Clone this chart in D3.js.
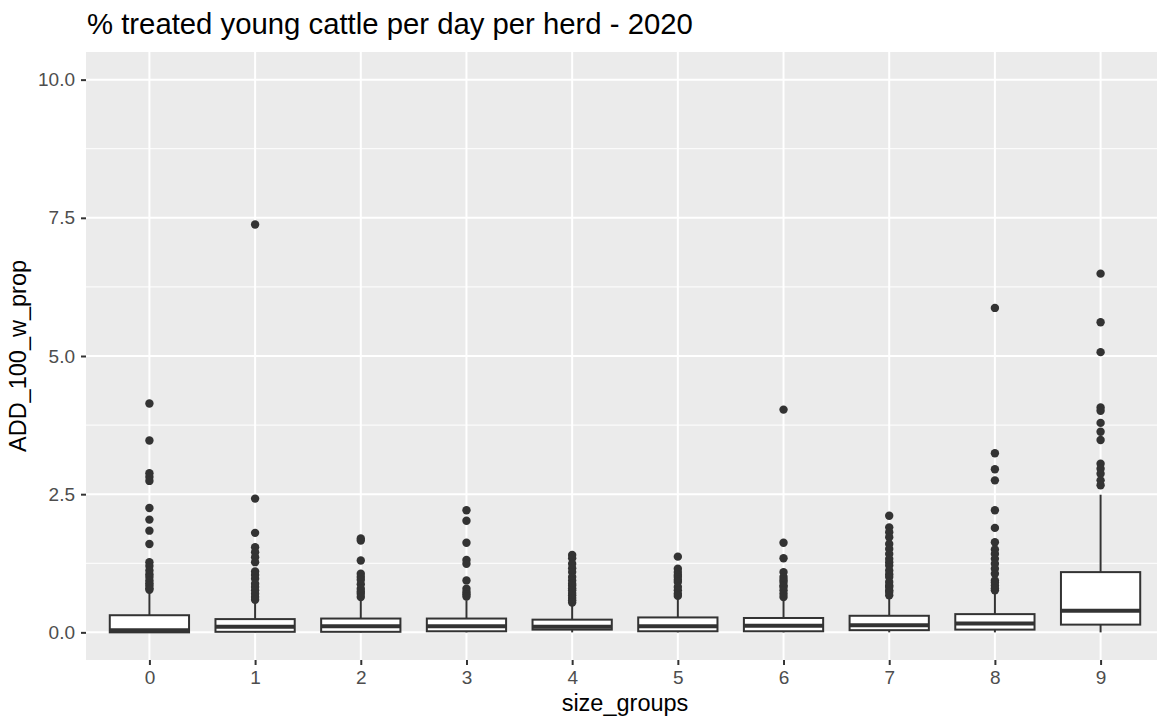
<!DOCTYPE html>
<html>
<head>
<meta charset="utf-8">
<script src="https://cdn.jsdelivr.net/npm/d3@7"></script>
<style>
  body { margin: 0; background: #fff; }
  svg text { font-family: "Liberation Sans", Arial, sans-serif; }
</style>
</head>
<body>
<div id="chart"></div>
<script>
// Box stats
const groups = ["0", "1", "2", "3", "4", "5", "6", "7", "8", "9"];
const whiskerLow = [0.0, 0.0, 0.0, 0.0, 0.0, 0.0, 0.0, 0.0, 0.0, 0.0];
const q1 = [0.0, 0.01, 0.01, 0.02, 0.05, 0.02, 0.02, 0.04, 0.05, 0.14];
const median = [0.04, 0.10, 0.11, 0.11, 0.10, 0.11, 0.12, 0.13, 0.16, 0.39];
const q3 = [0.31, 0.24, 0.25, 0.25, 0.23, 0.27, 0.26, 0.30, 0.33, 1.09];
const whiskerHigh = [0.74, 0.56, 0.58, 0.58, 0.49, 0.61, 0.58, 0.64, 0.70, 2.49];
const outliers = [
    [4.14, 3.47, 2.88, 2.81, 2.74, 2.25, 2.04, 1.84, 1.60, 1.27, 1.20, 1.12, 1.05, 1.00, 0.94, 0.89, 0.85, 0.80, 0.77],
    [7.38, 2.42, 1.80, 1.54, 1.45, 1.36, 1.27, 1.10, 1.04, 0.97, 0.88, 0.82, 0.76, 0.70, 0.64, 0.59],
    [1.70, 1.66, 1.30, 1.06, 1.00, 0.95, 0.87, 0.79, 0.74, 0.70, 0.64],
    [2.21, 2.02, 1.62, 1.31, 1.24, 0.94, 0.79, 0.73, 0.69, 0.65],
    [1.40, 1.34, 1.24, 1.16, 1.09, 1.00, 0.94, 0.88, 0.85, 0.80, 0.76, 0.71, 0.67, 0.62, 0.58, 0.54],
    [1.37, 1.15, 1.09, 1.04, 1.00, 0.95, 0.91, 0.82, 0.76, 0.70, 0.66],
    [4.03, 1.62, 1.34, 1.09, 1.00, 0.95, 0.91, 0.85, 0.82, 0.76, 0.70, 0.64],
    [2.11, 1.90, 1.81, 1.72, 1.60, 1.51, 1.42, 1.33, 1.27, 1.21, 1.12, 1.05, 1.00, 0.91, 0.85, 0.82, 0.76, 0.73, 0.67],
    [5.87, 3.24, 2.95, 2.75, 2.21, 1.89, 1.63, 1.50, 1.42, 1.33, 1.24, 1.15, 1.06, 0.94, 0.90, 0.85, 0.80, 0.76],
    [6.49, 5.61, 5.07, 4.07, 4.01, 3.79, 3.63, 3.48, 3.05, 2.96, 2.87, 2.75, 2.66]
];
const yTicks = [0, 2.5, 5, 7.5, 10];
const yMinor = [1.25, 3.75, 6.25, 8.75];

const margin = { top: 52, right: -7, bottom: 60, left: 86 };
const W = 1157, H = 720;
const width = W - margin.left - margin.right;
const height = H - margin.top - margin.bottom;

const svg = d3.select("#chart").append("svg")
    .attr("width", W)
    .attr("height", H);

const g = svg.append("g")
    .attr("transform", `translate(${margin.left},${margin.top})`);

const x = d3.scalePoint()
    .domain(groups)
    .range([0, width])
    .padding(0.6);

const y = d3.scaleLinear()
    .domain([-0.5, 10.5])
    .range([height, 0]);

// panel
g.append("rect")
    .attr("width", width)
    .attr("height", height)
    .attr("fill", "#EBEBEB");

g.selectAll(".minor")
    .data(yMinor)
    .enter().append("line")
    .attr("x1", 0).attr("x2", width)
    .attr("y1", d => y(d)).attr("y2", d => y(d))
    .attr("stroke", "#fff")
    .attr("stroke-width", 1);

g.selectAll(".hmajor")
    .data(yTicks)
    .enter().append("line")
    .attr("x1", 0).attr("x2", width)
    .attr("y1", d => y(d)).attr("y2", d => y(d))
    .attr("stroke", "#fff")
    .attr("stroke-width", 2);

g.selectAll(".vmajor")
    .data(groups)
    .enter().append("line")
    .attr("x1", d => x(d)).attr("x2", d => x(d))
    .attr("y1", 0).attr("y2", height)
    .attr("stroke", "#fff")
    .attr("stroke-width", 2);

// axes
const xAxis = g.append("g")
    .attr("transform", `translate(0,${height})`)
    .call(d3.axisBottom(x).tickSize(5).tickPadding(6));
const yAxis = g.append("g")
    .call(d3.axisLeft(y).tickValues(yTicks).tickFormat(d3.format(".1f")).tickSize(5).tickPadding(6));

[xAxis, yAxis].forEach(a => {
    a.select(".domain").remove();
    a.selectAll(".tick line").attr("stroke", "#333").attr("stroke-width", 2);
    a.selectAll(".tick text")
        .attr("fill", "#4D4D4D")
        .style("font-size", "19px");
});

// boxplots
const boxW = x.step() * 0.75;
const lineCol = "#333333";

groups.forEach((grp, i) => {
    const cx = x(grp);
    const bg = g.append("g");

    bg.append("line")
        .attr("x1", cx).attr("x2", cx)
        .attr("y1", y(q3[i])).attr("y2", y(whiskerHigh[i]))
        .attr("stroke", lineCol).attr("stroke-width", 2);
    bg.append("line")
        .attr("x1", cx).attr("x2", cx)
        .attr("y1", y(q1[i])).attr("y2", y(whiskerLow[i]))
        .attr("stroke", lineCol).attr("stroke-width", 2);

    bg.append("rect")
        .attr("x", cx - boxW / 2)
        .attr("y", y(q3[i]))
        .attr("width", boxW)
        .attr("height", y(q1[i]) - y(q3[i]))
        .attr("fill", "#fff")
        .attr("stroke", lineCol)
        .attr("stroke-width", 2);

    bg.append("line")
        .attr("x1", cx - boxW / 2).attr("x2", cx + boxW / 2)
        .attr("y1", y(median[i])).attr("y2", y(median[i]))
        .attr("stroke", lineCol).attr("stroke-width", 4);

    bg.selectAll("circle")
        .data(outliers[i])
        .enter().append("circle")
        .attr("cx", cx)
        .attr("cy", d => y(d))
        .attr("r", 4.2)
        .attr("fill", lineCol);
});

// titles
svg.append("text")
    .attr("x", 87)
    .attr("y", 34)
    .style("font-size", "29.3px")
    .attr("fill", "#000")
    .text("% treated young cattle per day per herd - 2020");

svg.append("text")
    .attr("x", margin.left + width / 2)
    .attr("y", 711)
    .attr("text-anchor", "middle")
    .style("font-size", "23.5px")
    .attr("fill", "#000")
    .text("size_groups");

svg.append("text")
    .attr("transform", `translate(26,${margin.top + height / 2}) rotate(-90)`)
    .attr("text-anchor", "middle")
    .style("font-size", "23.5px")
    .attr("fill", "#000")
    .text("ADD_100_w_prop");
</script>
</body>
</html>
